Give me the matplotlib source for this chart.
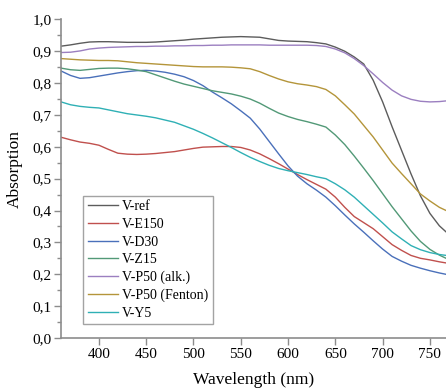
import numpy as np
import matplotlib
matplotlib.use('Agg')
import matplotlib.pyplot as plt
from matplotlib.ticker import MultipleLocator, FuncFormatter

wavelength = list(range(360, 780, 10))

v_ref = [0.916, 0.920, 0.925, 0.929, 0.930, 0.930, 0.929, 0.928, 0.928, 0.928,
         0.929, 0.931, 0.933, 0.935, 0.938, 0.940, 0.942, 0.944, 0.945, 0.946,
         0.945, 0.944, 0.939, 0.934, 0.932, 0.931, 0.930, 0.927, 0.923, 0.913,
         0.900, 0.882, 0.860, 0.809, 0.741, 0.663, 0.589, 0.515, 0.446, 0.391,
         0.352, 0.325]
v_e150 = [0.630, 0.622, 0.615, 0.611, 0.605, 0.592, 0.580, 0.577, 0.576, 0.577,
          0.579, 0.582, 0.585, 0.590, 0.595, 0.599, 0.600, 0.601, 0.601, 0.598,
          0.590, 0.578, 0.563, 0.547, 0.530, 0.513, 0.497, 0.482, 0.467, 0.442,
          0.410, 0.381, 0.362, 0.343, 0.318, 0.293, 0.275, 0.259, 0.250, 0.245,
          0.239, 0.234]
v_d30 = [0.838, 0.824, 0.815, 0.817, 0.822, 0.827, 0.832, 0.836, 0.839, 0.840,
         0.838, 0.834, 0.828, 0.820, 0.808, 0.792, 0.772, 0.754, 0.735, 0.713,
         0.690, 0.656, 0.617, 0.578, 0.540, 0.508, 0.484, 0.464, 0.442, 0.415,
         0.386, 0.358, 0.332, 0.305, 0.279, 0.256, 0.241, 0.228, 0.219, 0.211,
         0.204, 0.198]
v_z15 = [0.847, 0.842, 0.840, 0.843, 0.846, 0.847, 0.847, 0.845, 0.841, 0.836,
         0.826, 0.816, 0.806, 0.797, 0.790, 0.783, 0.776, 0.771, 0.766, 0.759,
         0.750, 0.737, 0.721, 0.706, 0.695, 0.686, 0.679, 0.671, 0.662, 0.637,
         0.607, 0.571, 0.533, 0.494, 0.453, 0.412, 0.374, 0.336, 0.303, 0.278,
         0.260, 0.246]
v_p50_alk = [0.896, 0.897, 0.901, 0.907, 0.910, 0.912, 0.913, 0.914, 0.915, 0.915,
             0.916, 0.916, 0.917, 0.917, 0.918, 0.918, 0.919, 0.919, 0.920, 0.920,
             0.920, 0.920, 0.919, 0.919, 0.919, 0.919, 0.919, 0.918, 0.915, 0.907,
             0.895, 0.877, 0.855, 0.829, 0.802, 0.778, 0.760, 0.749, 0.743, 0.741,
             0.742, 0.745]
v_p50_fenton = [0.877, 0.875, 0.873, 0.872, 0.871, 0.871, 0.870, 0.867, 0.864, 0.862,
                0.860, 0.858, 0.856, 0.854, 0.852, 0.851, 0.851, 0.851, 0.850, 0.848,
                0.845, 0.836, 0.824, 0.813, 0.804, 0.798, 0.794, 0.789, 0.780, 0.760,
                0.732, 0.703, 0.667, 0.631, 0.590, 0.549, 0.516, 0.484, 0.452, 0.430,
                0.410, 0.396]
v_y5 = [0.741, 0.732, 0.727, 0.724, 0.722, 0.716, 0.710, 0.704, 0.700, 0.696,
        0.691, 0.684, 0.677, 0.666, 0.655, 0.642, 0.628, 0.613, 0.598, 0.582,
        0.567, 0.554, 0.542, 0.532, 0.525, 0.519, 0.513, 0.506, 0.500, 0.484,
        0.465, 0.442, 0.415, 0.388, 0.361, 0.333, 0.311, 0.290, 0.277, 0.268,
        0.262, 0.258]

series = {
    'V-ref': (v_ref, '#5c5c5c'),
    'V-E150': (v_e150, '#c0504d'),
    'V-D30': (v_d30, '#4a70ba'),
    'V-Z15': (v_z15, '#529977'),
    'V-P50 (alk.)': (v_p50_alk, '#9b7fc0'),
    'V-P50 (Fenton)': (v_p50_fenton, '#b4953a'),
    'V-Y5': (v_y5, '#2fb0b5'),
}

plt.rcParams['font.family'] = ['Liberation Serif', 'DejaVu Serif']

fig = plt.figure(figsize=(4.46, 3.88), dpi=100)
ax = fig.add_axes([0.137, 0.129, 0.863, 0.821])

for name, (vals, color) in series.items():
    ax.plot(wavelength, vals, color=color, linewidth=1.0, label=name)

ax.set_xlim(360, 767)
ax.set_ylim(0, 1.0)
ax.set_xticks([400, 450, 500, 550, 600, 650, 700, 750])
ax.yaxis.set_major_locator(MultipleLocator(0.1))
ax.yaxis.set_minor_locator(MultipleLocator(0.05))
ax.yaxis.set_major_formatter(FuncFormatter(lambda v, _: f'{v:.1f}'.replace('.', ',')))

for side in ['top', 'right']:
    ax.spines[side].set_visible(False)
for side in ['left', 'bottom']:
    ax.spines[side].set_color('#8c8c8c')
    ax.spines[side].set_linewidth(1.2)
ax.tick_params(axis='both', which='major', length=5, width=1.0, color='#8c8c8c',
               labelsize=11, pad=2)
ax.tick_params(axis='y', which='minor', length=3, width=1.0, color='#8c8c8c')

ax.set_xlabel('Wavelength (nm)', fontsize=12.5, labelpad=8)
ax.set_ylabel('Absorption', fontsize=12.5)
ax.yaxis.set_label_coords(-0.1, 0.53)

leg = ax.legend(loc='upper left', bbox_to_anchor=(0.058, 0.445), fontsize=10,
                frameon=True, fancybox=False, edgecolor='#8c8c8c', handlelength=2.2,
                handletextpad=0.3, labelspacing=0.33, borderpad=0.3,
                borderaxespad=0)
leg.get_frame().set_linewidth(1.0)

fig.savefig('out.png', dpi=100)
